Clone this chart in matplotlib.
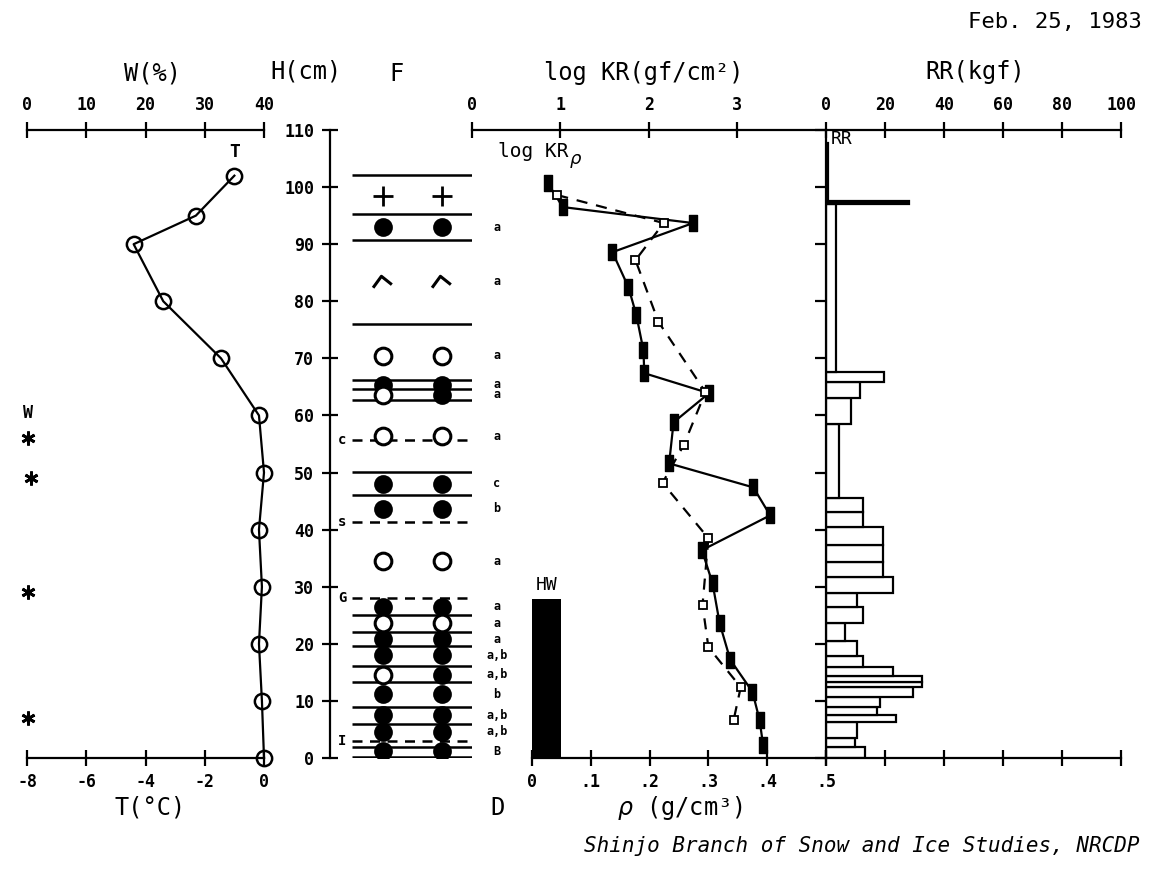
import matplotlib
matplotlib.use('Agg')
import matplotlib.pyplot as plt
from matplotlib.path import Path

plt.rcParams['font.family'] = ['DejaVu Sans Mono']
plt.rcParams['axes.unicode_minus'] = False

# snow temperature profile
temp_h = [102, 95, 90, 80, 70, 60, 50, 40, 30, 20, 10, 0]
temp_c = [-1.0, -2.3, -4.4, -3.4, -1.45, -0.17, 0.0, -0.17, -0.07, -0.17, -0.07, 0.0]

# free water content
water_h = [56, 49, 29, 7]
water_pct = [0.1, 0.7, 0.1, 0.1]

# layer boundaries of the F column
layer_solid = [102.1, 95.3, 90.7, 76.0, 66.2, 64.6, 62.7, 50.1, 46.0,
               25.0, 22.1, 19.6, 16.1, 13.3, 8.9, 6.0, 2.0, 0.2]
layer_dashed = [55.7, 41.3, 28.0, 3.0]
dashed_tags = ['c', 's', 'G', 'I']

# grain shapes (left / right symbol) and grain size tag
grain_h = [98.5, 93.0, 83.5, 70.5, 65.4, 63.6, 56.4, 48.0, 43.7, 34.5,
           26.5, 23.6, 20.8, 18.0, 14.6, 11.2, 7.5, 4.6, 1.2]
grain_left = ['plus', 'full', 'hook', 'open', 'full', 'open', 'open', 'full', 'full', 'open',
              'full', 'open', 'full', 'full', 'open', 'full', 'full', 'full', 'full']
grain_right = ['plus', 'full', 'hook', 'open', 'full', 'full', 'open', 'full', 'full', 'open',
               'full', 'open', 'full', 'full', 'full', 'full', 'full', 'full', 'full']
grain_tag = ['', 'a', 'a', 'a', 'a', 'a', 'a', 'c', 'b', 'a',
             'a', 'a', 'a', 'a,b', 'a,b', 'b', 'a,b', 'a,b', 'B']

# Kinoshita hardness (log KR)
kr_h = [100.7, 96.5, 93.7, 88.6, 82.5, 77.6, 71.4, 67.4, 63.9, 58.8,
        51.6, 47.4, 42.5, 36.4, 30.6, 23.6, 17.2, 11.6, 6.7, 2.3]
kr_log = [0.86, 1.03, 2.50, 1.59, 1.77, 1.86, 1.94, 1.95, 2.68, 2.28,
          2.23, 3.18, 3.37, 2.60, 2.72, 2.80, 2.92, 3.17, 3.25, 3.29]

# density
rho_h = [98.6, 93.7, 87.2, 76.4, 64.1, 54.8, 48.2, 38.5, 26.8, 19.4, 12.4, 6.7]
rho = [0.043, 0.224, 0.176, 0.215, 0.295, 0.258, 0.222, 0.300, 0.290, 0.300, 0.355, 0.343]

# hard-wet layer
hw_top = 27.8

# ram resistance
rr_bottom = [0, 1.9, 3.5, 6.3, 7.5, 8.9, 10.7, 12.4, 13.3, 14.4, 15.9, 17.9, 20.5, 23.6,
             26.4, 28.9, 31.7, 34.3, 37.3, 40.5, 43.1, 45.5, 58.5, 63.1, 65.8, 67.6, 97.0, 97.6]
rr_top = rr_bottom[1:] + [107.7]
rr_kgf = [13.2, 9.8, 10.4, 23.7, 17.2, 18.3, 29.4, 32.5, 32.5, 22.6, 12.5, 10.5, 6.4, 12.6,
          10.5, 22.6, 19.4, 19.4, 19.4, 12.5, 12.5, 4.4, 8.5, 11.5, 19.7, 3.4, 28, 0.8]

W, HP = 1163, 877
fig = plt.figure(figsize=(11.63, 8.77), dpi=100)


def px_axes(x0, x1, y0=130, y1=758):
    ax = fig.add_axes([x0 / W, 1 - y1 / HP, (x1 - x0) / W, (y1 - y0) / HP])
    ax.set_facecolor('none')
    ax.set_ylim(0, 110)
    for s in ax.spines.values():
        s.set_visible(False)
        s.set_linewidth(1.6)
    return ax


def ftext(x, y, s, **kw):
    fig.text(x / W, 1 - y / HP, s, **kw)


tick_kw = dict(direction='inout', length=11, width=1.6, labelsize=12)

# ---- temperature / water content
ax_t = px_axes(27, 264)
ax_t.set_xlim(-8, 0)
ax_t.spines['bottom'].set_visible(True)
ax_t.set_yticks([])
ax_t.set_xticks([-8, -6, -4, -2, 0])
ax_t.tick_params(axis='x', pad=5, **tick_kw)
for lb in ax_t.get_xticklabels():
    lb.set_fontweight('bold')
ax_t.plot(temp_c, temp_h, color='k', lw=1.6, marker='o', ms=11, mfc='none', mew=1.8, clip_on=False)
ax_t.text(temp_c[0], temp_h[0] + 4.2, 'T', ha='center', va='center', fontsize=13, weight='bold')

ax_w = ax_t.twiny()
ax_w.set_facecolor('none')
for s in ax_w.spines.values():
    s.set_visible(False)
ax_w.spines['top'].set_visible(True)
ax_w.spines['top'].set_linewidth(1.6)
ax_w.set_xlim(0, 40)
ax_w.set_xticks([0, 10, 20, 30, 40])
ax_w.tick_params(axis='x', pad=6, **tick_kw)
for lb in ax_w.get_xticklabels():
    lb.set_fontweight('bold')
ax_w.plot(water_pct, water_h, ls='none', marker=(6, 2, 0), ms=10, mew=2, color='k', clip_on=False)
ax_w.text(water_pct[0], water_h[0] + 4.5, 'W', ha='center', va='center', fontsize=12, weight='bold')

# ---- height axis and grain shape column
ax_f = px_axes(330, 472)
ax_f.set_xlim(0, 1)
ax_f.spines['left'].set_visible(True)
ax_f.set_xticks([])
ax_f.set_yticks(range(0, 111, 10))
ax_f.tick_params(axis='y', pad=6, **tick_kw)
for lb in ax_f.get_yticklabels():
    lb.set_fontweight('bold')

ax_f.hlines(layer_solid, 0.155, 1.0, color='k', lw=1.8)
ax_f.hlines(layer_dashed, 0.155, 1.0, color='k', lw=1.8, linestyles=(0, (4, 3)))
for h, t in zip(layer_dashed, dashed_tags):
    ax_f.text(0.085, h, t, ha='center', va='center', fontsize=10, weight='bold')

hook = Path([(-1.0, -0.6), (-0.2, 0.5), (0.8, -0.3)], [Path.MOVETO, Path.LINETO, Path.LINETO])
sym_style = {
    'full': dict(marker='o', ms=12, mfc='k', mec='k', mew=1.5),
    'open': dict(marker='o', ms=12, mfc='white', mec='k', mew=2.2),
    'plus': dict(marker='+', ms=14, mec='k', mew=2),
    'hook': dict(marker=hook, ms=15, mfc='none', mec='k', mew=2.2),
}
for xcol, syms in [(0.373, grain_left), (0.789, grain_right)]:
    for kind, st in sym_style.items():
        hs = [h for h, s in zip(grain_h, syms) if s == kind]
        ax_f.plot([xcol] * len(hs), hs, ls='none', **st)
for h, t in zip(grain_h, grain_tag):
    ax_f.text(1.176, h, t, ha='center', va='center', fontsize=8.5, weight='bold', clip_on=False)

# ---- log KR
ax_kr = px_axes(471.5, 826)
ax_kr.set_xlim(0, 4)
ax_kr.spines['top'].set_visible(True)
ax_kr.set_yticks([])
ax_kr.xaxis.set_ticks_position('top')
ax_kr.set_xticks([0, 1, 2, 3])
ax_kr.tick_params(axis='x', pad=6, **tick_kw)
for lb in ax_kr.get_xticklabels():
    lb.set_fontweight('bold')
bar_mark = Path([(-0.25, -0.5), (0.25, -0.5), (0.25, 0.5), (-0.25, 0.5), (-0.25, -0.5)],
                [Path.MOVETO, Path.LINETO, Path.LINETO, Path.LINETO, Path.CLOSEPOLY])
ax_kr.plot(kr_log, kr_h, color='k', lw=1.6, marker=bar_mark, ms=12, mfc='k', mec='k', clip_on=False)
ax_kr.text(0.3, 106.3, 'log KR', ha='left', va='center', fontsize=14)
ax_kr.text(1.18, 104.6, r'$\rho$', ha='center', va='center', fontsize=13)

# ---- density
ax_rho = px_axes(532, 826)
ax_rho.set_xlim(0, 0.5)
ax_rho.spines['bottom'].set_visible(True)
ax_rho.set_yticks([])
ax_rho.set_xticks([0, 0.1, 0.2, 0.3, 0.4, 0.5])
ax_rho.set_xticklabels(['0', '.1', '.2', '.3', '.4', '.5'])
ax_rho.tick_params(axis='x', pad=5, **tick_kw)
for lb in ax_rho.get_xticklabels():
    lb.set_fontweight('bold')
ax_rho.bar(0, hw_top, width=0.05, align='edge', color='k', zorder=1)
ax_rho.text(0.025, hw_top + 1.0, 'HW', ha='center', va='bottom', fontsize=13)
ax_rho.plot(rho, rho_h, color='k', lw=1.6, dashes=(5, 4), marker='s', ms=6,
            mfc='white', mec='k', mew=1.3, clip_on=False)

# ---- ram resistance
ax_rr = px_axes(826, 1121)
ax_rr.set_xlim(0, 100)
for side in ['top', 'bottom', 'left']:
    ax_rr.spines[side].set_visible(True)
ax_rr.set_xticks([0, 20, 40, 60, 80, 100])
ax_rr.tick_params(axis='x', top=True, bottom=True, labeltop=True, labelbottom=False, pad=6, **tick_kw)
for lb in ax_rr.get_xticklabels():
    lb.set_fontweight('bold')
ax_rr.set_yticks(range(0, 111, 10))
ax_rr.tick_params(axis='y', direction='out', length=8, width=1.6, labelleft=False)
heights = [t - b for b, t in zip(rr_bottom, rr_top)]
# very thin or very narrow layers print as solid black
rr_fill = ['k' if (hgt < 0.7 or v < 1.5) else 'white' for hgt, v in zip(heights, rr_kgf)]
ax_rr.barh(rr_bottom, rr_kgf, height=heights, align='edge', color=rr_fill, edgecolor='k', lw=1.6)
ax_rr.text(1.5, 108.4, 'RR', ha='left', va='center', fontsize=13)

# ---- headers and footers
hdr = dict(ha='center', va='center', fontsize=17)
ftext(1142, 22, 'Feb. 25, 1983', ha='right', va='center', fontsize=16)
ftext(152, 74, 'W(%)', **hdr)
ftext(306, 72, 'H(cm)', **hdr)
ftext(396, 74, 'F', **hdr)
ftext(644, 73, 'log KR(gf/cm²)', **hdr)
ftext(975, 72, 'RR(kgf)', **hdr)
ftext(150, 808, 'T(°C)', **hdr)
ftext(497, 808, 'D', **hdr)
ftext(680, 808, r'$\rho$ (g/cm³)', **hdr)
ftext(1140, 846, 'Shinjo Branch of Snow and Ice Studies, NRCDP', ha='right', va='center',
      fontsize=15, style='italic')

fig.savefig('out.png', dpi=100)
